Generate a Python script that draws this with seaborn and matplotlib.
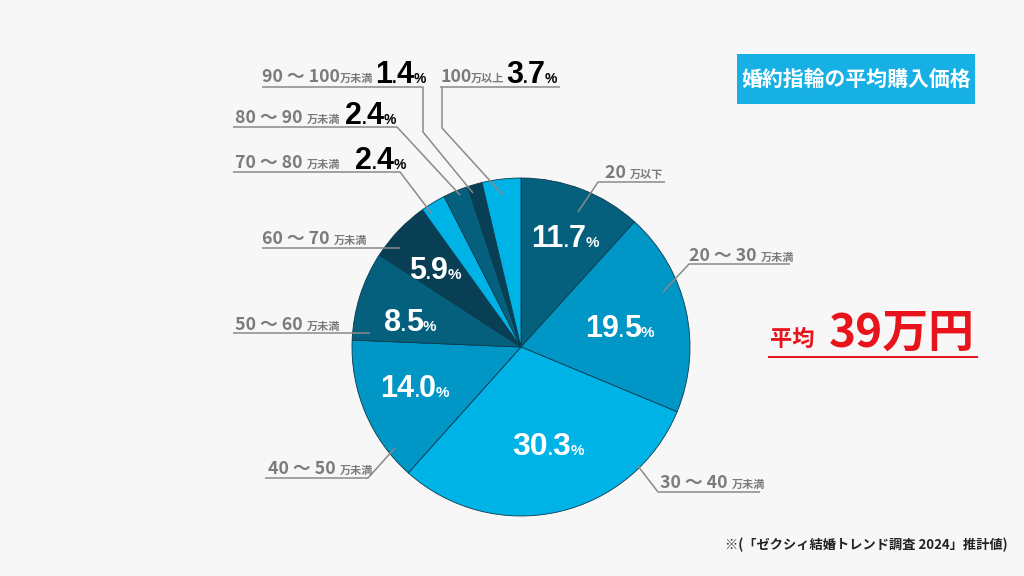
import matplotlib
matplotlib.use("Agg")
import matplotlib.pyplot as plt
import seaborn as sns
from matplotlib.patches import Rectangle

# data
categories = ["20万以下", "20～30万未満", "30～40万未満", "40～50万未満", "50～60万未満",
              "60～70万未満", "70～80万未満", "80～90万未満", "90～100万未満", "100万以上"]
shares = [11.7, 19.5, 30.3, 14.0, 8.5, 5.9, 2.4, 2.4, 1.4, 3.7]
inside_labels = ["11.7", "19.5", "30.3", "14.0", "8.5", "5.9"]
outside_labels = ["2.4", "2.4", "1.4", "3.7"]
average_text = "39万円"

DARK, MID, LIGHT, DARKEST = "#05607e", "#0096c6", "#00b3e7", "#083f55"
slice_colors = [DARK, MID, LIGHT, MID, DARK, DARKEST, LIGHT, DARK, DARKEST, LIGHT]

sns.set_theme(style="white")
plt.rcParams["font.family"] = ["Noto Sans CJK JP", "DejaVu Sans"]
BG = "#f7f7f7"
GRAY = "#7b7b7b"
LINE = "#8a8a8a"
RED = "#e8141c"
NUMFONT = ["Liberation Sans", "DejaVu Sans"]
JP = ["Noto Sans CJK JP", "DejaVu Sans"]
NUM_SZ, SUF_SZ = 12.8, 8

fig = plt.figure(figsize=(10.24, 5.76), dpi=100, facecolor=BG)
ax = fig.add_axes([0, 0, 1, 1])
ax.set_facecolor(BG)
H = 576


def Y(y):
    return H - y


ax.pie(shares, colors=sns.color_palette(slice_colors), startangle=90, counterclock=False,
       center=(521, Y(347)), radius=169,
       wedgeprops=dict(edgecolor="#0a3a4d", linewidth=0.6))
ax.set_xlim(0, 1024)
ax.set_ylim(0, H)
ax.set_aspect("equal")
ax.axis("off")

renderer = fig.canvas.get_renderer()


def runs(x, y, parts, ha="left"):
    """Draw text pieces side by side on a shared baseline."""
    texts = []
    cx = x
    for s, size, color, fam in parts:
        t = ax.text(cx, Y(y), s, fontsize=size, color=color, fontweight="bold",
                    family=fam, ha="left", va="baseline")
        bb = t.get_window_extent(renderer)
        cx += bb.width
        texts.append(t)
    if ha == "center":
        shift = (cx - x) / 2
        for t in texts:
            px, py = t.get_position()
            t.set_position((px - shift, py))
    return cx


def pct(value, size, color, small, fam=NUMFONT):
    whole, dec = value.split(".")
    return [(whole, size, color, fam), (".", size * 0.55, color, fam),
            (dec, size, color, fam), ("%", small, color, fam)]


def line(points, color=LINE, lw=1.1):
    xs = [p[0] for p in points]
    ys = [Y(p[1]) for p in points]
    ax.plot(xs, ys, color=color, lw=lw, solid_capstyle="butt")


def gray(rng, suffix):
    return [(rng, NUM_SZ, GRAY, JP), (suffix, SUF_SZ, GRAY, JP)]


# percentages inside the pie
inside_pos = [(565, 247), (620, 337), (548, 455), (415, 397), (410, 331), (435, 279)]
inside_sizes = [22, 22, 23, 22, 22, 22]
for txt, (px, py), sz in zip(inside_labels, inside_pos, inside_sizes):
    runs(px, py, pct(txt, sz, "white", 11), ha="center")

# outer labels with leader lines
runs(605, 178, gray("20 ", "万以下"))
line([(665, 182), (598, 182), (578, 212)])

runs(689, 261, gray("20 ～ 30 ", "万未満"))
line([(790, 264), (689, 264), (663, 292)])

runs(660, 488, gray("30 ～ 40 ", "万未満"))
line([(760, 492), (658, 492), (638, 466)])

runs(268, 474, gray("40 ～ 50 ", "万未満"))
line([(265, 478), (368, 478), (395, 448)])

runs(235, 330, gray("50 ～ 60 ", "万未満"))
line([(233, 333), (370, 333)])

runs(262, 244, gray("60 ～ 70 ", "万未満"))
line([(262, 248), (400, 248)])

# small slices: gray range label plus a large black share
big_pos = [(235, 168, 355), (235, 123, 345), (262, 82, 375), (440, 82, 506)]
big_text = [("70 ～ 80 ", "万未満"), ("80 ～ 90 ", "万未満"),
            ("90 ～ 100", "万未満"), ("100", "万以上")]
for (lx, ly, px), (rng, suf), val in zip(big_pos, big_text, outside_labels):
    runs(lx, ly, gray(rng, suf))
    runs(px, ly + 1, pct(val, 22, "black", 10))

line([(233, 172), (400, 172), (432, 214)])
line([(233, 127), (397, 127), (460, 195)])
line([(262, 87), (423, 87), (423, 132), (473, 193)])
line([(440, 87), (560, 87)])
line([(442, 87), (442, 128), (503, 195)])

# title box
ax.add_patch(Rectangle((737, Y(104)), 238, 50, facecolor="#17b0e4", edgecolor="none"))
ax.text(856, Y(79), "婚約指輪の平均購入価格", fontsize=15, color="white",
        fontweight="bold", ha="center", va="center")

# average callout
runs(770, 346, [("平均", 16, RED, JP)])
runs(829, 347, [(average_text, 33, RED, JP)])
line([(768, 357), (978, 357)], color=RED, lw=1.4)

# footnote
ax.text(866, Y(545), "※(「ゼクシィ結婚トレンド調査 2024」推計値)", fontsize=9.5,
        color="#222222", fontweight="bold", ha="center", va="center")

fig.savefig("out.png", dpi=100, facecolor=BG)
